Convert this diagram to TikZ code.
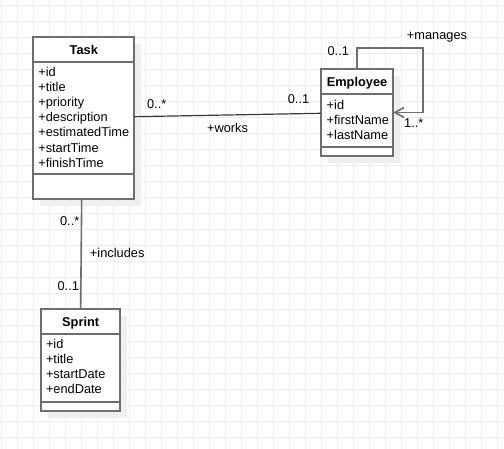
\documentclass[tikz,border=0pt]{standalone}
\usepackage{fontspec}
\setmainfont{Liberation Sans}
\usetikzlibrary{arrows.meta,calc}
\definecolor{boxline}{HTML}{6E6E6E}
\definecolor{gridc}{HTML}{EDEDED}
\definecolor{shadowc}{HTML}{EFEFEF}
\definecolor{assocc}{HTML}{3A3A3A}
\begin{document}
\begin{tikzpicture}[x=1pt,y=-1pt,
  every node/.style={font=\fontsize{12.8}{15}\selectfont, inner sep=0pt, outer sep=0pt, text=black},
  umlbox/.style={draw=boxline, line width=1.8pt, fill=white, anchor=north west, outer sep=0pt},
  sepline/.style={draw=boxline, line width=1.8pt},
  shadowbox/.style={fill=shadowc},
  ttl/.style={anchor=base, font=\fontsize{12.8}{15}\selectfont\bfseries},
  attr/.style={anchor=base west},
  lbl/.style={anchor=base},
  assoc/.style={draw=assocc, line width=1.2pt},
  greyassoc/.style={draw=boxline, line width=1.6pt},
  gridline/.style={draw=gridc, line width=1pt}
]
\useasboundingbox (0,0) rectangle (504,449);
\fill[white] (0,0) rectangle (504,449);
% grid
\foreach \i in {0,...,31} \draw[gridline] ({1+16*\i},0) -- ({1+16*\i},449);
\foreach \i in {0,...,27} \draw[gridline] (0,{5.3+16*\i}) -- (504,{5.3+16*\i});

% shadows
\fill[shadowbox] (40.3,44.3) rectangle (141.3,206.3);
\fill[shadowbox] (327.7,76.3) rectangle (400.3,162.7);
\fill[shadowbox] (48,315.7) rectangle (127.3,417.7);

% Task
\node[umlbox, minimum width=101pt, minimum height=162pt] (task) at (33.3,37.3) {};
\draw[sepline] (33.3,61.7) -- (134.3,61.7);
\draw[sepline] (33.3,174.3) -- (134.3,174.3);
\node[ttl] (tasktitle) at (83.8,54.6) {Task};
\foreach \t [count=\k from 0] in {+id,+title,+priority,+description,+estimatedTime,+startTime,+finishTime}
  \node[attr] (taskattr\k) at (38.3,{76.8+15.05*\k}) {\t};

% Employee
\node[umlbox, minimum width=72.6pt, minimum height=86.4pt] (employee) at (320.7,69.3) {};
\draw[sepline] (320.7,94.3) -- (393.3,94.3);
\draw[sepline] (320.7,146.7) -- (393.3,146.7);
\node[ttl] (emptitle) at (357,86.3) {Employee};
\foreach \t [count=\k from 0] in {+id,+firstName,+lastName}
  \node[attr] (empattr\k) at (326.7,{109.5+14.8*\k}) {\t};

% Sprint
\node[umlbox, minimum width=79.3pt, minimum height=102pt] (sprint) at (41,308.7) {};
\draw[sepline] (41,334.3) -- (120.3,334.3);
\draw[sepline] (41,401.7) -- (120.3,401.7);
\node[ttl] (sprtitle) at (80.65,326.3) {Sprint};
\foreach \t [count=\k from 0] in {+id,+title,+startDate,+endDate}
  \node[attr] (sprattr\k) at (46,{348.8+15*\k}) {\t};

% works
\draw[assoc] ([yshift=1.6pt]task.east) -- ([yshift=-0.8pt]employee.west);
\node[lbl] (w1) at (156.7,108.9) {0..*};
\node[lbl] (w2) at (227.5,132.9) {+works};
\node[lbl] (w3) at (298.5,103.9) {0..1};

% includes
\draw[greyassoc] ([xshift=-2.1pt]task.south) -- (sprint.north);
\node[lbl] (i1) at (69.7,225.3) {0..*};
\node[lbl] (i2) at (117.2,257.3) {+includes};
\node[lbl] (i3) at (68.3,290.6) {0..1};

% manages
\coordinate (mtr) at (422.7,48.3);
\draw[greyassoc, -{Straight Barb[length=9pt,width=10pt]}] (employee.north) |- (mtr) |- (employee.east);
\node[lbl] (m1) at (437,39.3) {+manages};
\node[lbl] (m2) at (338.3,55.3) {0..1};
\node[lbl] (m3) at (413.8,127.3) {1..*};
\end{tikzpicture}
\end{document}
